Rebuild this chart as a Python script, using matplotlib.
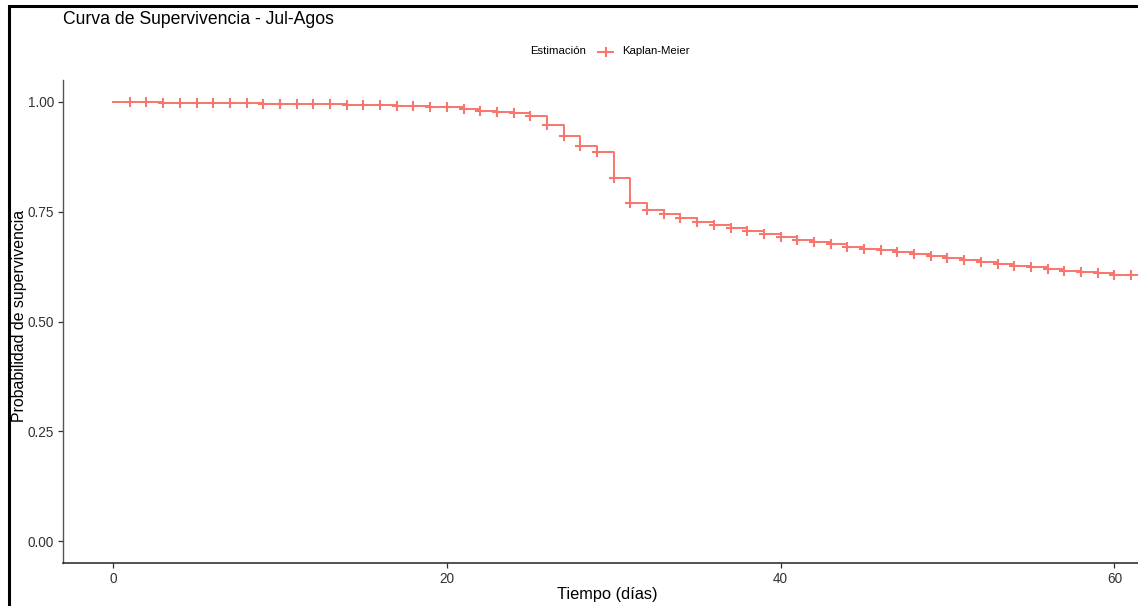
import matplotlib
matplotlib.use("Agg")
import matplotlib.pyplot as plt
from matplotlib.lines import Line2D
from matplotlib.patches import Rectangle

plt.rcParams['font.family'] = ['Liberation Sans', 'DejaVu Sans']

# Data
days = list(range(0, 63))
survival = [
    1.000, 0.999, 0.999, 0.998, 0.998, 0.998, 0.997, 0.997, 0.997, 0.996,
    0.996, 0.996, 0.995, 0.995, 0.994, 0.993, 0.993, 0.991, 0.990, 0.989,
    0.988, 0.984, 0.980, 0.976, 0.974, 0.969, 0.948, 0.923, 0.900, 0.885,
    0.826, 0.771, 0.753, 0.744, 0.735, 0.727, 0.720, 0.712, 0.706, 0.699,
    0.692, 0.686, 0.680, 0.676, 0.670, 0.666, 0.662, 0.658, 0.653, 0.649,
    0.644, 0.640, 0.635, 0.630, 0.626, 0.623, 0.619, 0.616, 0.612, 0.610,
    0.607, 0.607, 0.606,
]
censor_days = days[1:]
censor_surv = survival[1:]
x_ticks = [0, 20, 40, 60]
y_ticks = [0.00, 0.25, 0.50, 0.75, 1.00]
y_tick_labels = ["0.00", "0.25", "0.50", "0.75", "1.00"]

color = "#F8766D"
W, H = 1138, 606
fig = plt.figure(figsize=(W / 100, H / 100), dpi=100)
ax = fig.add_axes([63 / W, (H - 563) / H, 1 - 63 / W + 0.01, (563 - 80) / H])

ax.step(days, survival, where="post", color=color, lw=1.4, zorder=3)
ax.plot(censor_days, censor_surv, ls="none", marker="+", ms=7.5, mew=1.5,
        color=color, zorder=4)

ax.set_xlim(-3.0, 62.1)
ax.set_ylim(-0.05, 1.05)
ax.set_xticks(x_ticks)
ax.set_yticks(y_ticks)
ax.set_yticklabels(y_tick_labels)
for s in ["top", "right"]:
    ax.spines[s].set_visible(False)
ax.spines["left"].set_color("#555555")
ax.spines["bottom"].set_color("#222222")
ax.spines["left"].set_linewidth(1.0)
ax.spines["bottom"].set_linewidth(1.1)
ax.tick_params(axis="both", length=3.5, width=0.9, color="#333333",
               labelsize=9.8, labelcolor="#333333", pad=3)

# Axis labels
fig.text(607 / W, 1 - 595 / H, "Tiempo (días)", fontsize=11.8,
         ha="center", va="center")
fig.text(20 / W, 1 - 316 / H, "Probabilidad de supervivencia", fontsize=11.4,
         rotation=90, ha="center", va="center")

# Title
fig.text(63 / W, 1 - 19.5 / H, "Curva de Supervivencia - Jul-Agos", fontsize=12.7,
         ha="left", va="center")

# Legend (horizontal, top)
ly = 1 - 51.5 / H
fig.text(530 / W, ly, "Estimación", fontsize=8.2, ha="left", va="center")
fig.add_artist(Line2D([598 / W, 613 / W], [ly, ly], color=color, lw=1.4,
                      transform=fig.transFigure))
fig.add_artist(Line2D([606 / W], [ly], color=color, marker="+", ms=7.5, mew=1.5,
                      ls="none", transform=fig.transFigure))
fig.text(622 / W, ly, "Kaplan-Meier", fontsize=8.2, ha="left", va="center")

# Outer frame
fig.add_artist(Rectangle((9 / W, -0.05), 1.2, 1 - 5.5 / H + 0.05, fill=False,
                         ec="black", lw=2.2, transform=fig.transFigure))

fig.savefig("out.png", dpi=100)
